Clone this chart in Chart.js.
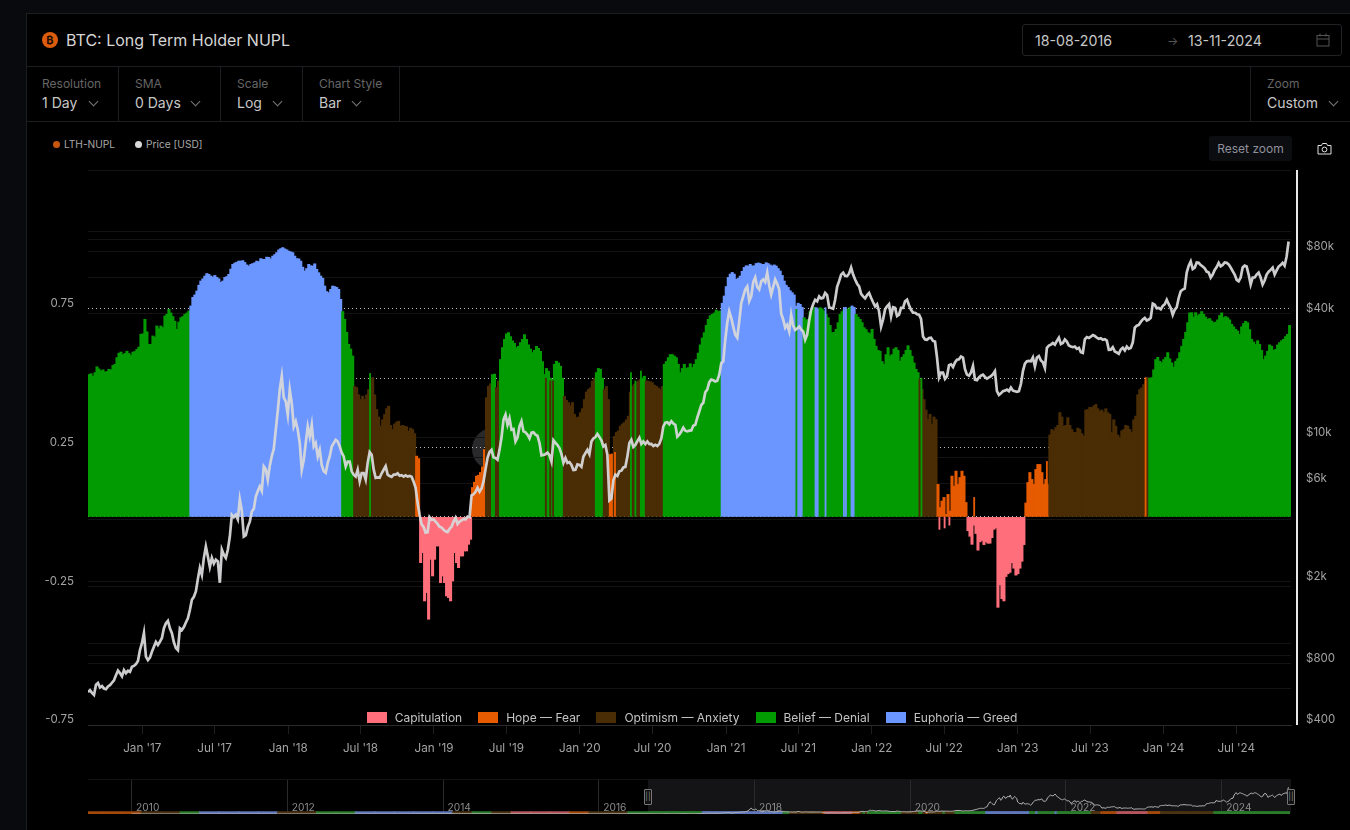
<!DOCTYPE html>
<html>
<head>
<meta charset="utf-8">
<title>BTC: Long Term Holder NUPL</title>
<script src="https://cdn.jsdelivr.net/npm/chart.js@4/dist/chart.umd.min.js"></script>
<style>
	* { box-sizing: border-box; }
	html, body { margin: 0; width: 1350px; height: 830px; overflow: hidden; background: #090a0e; font-family: Inter, sans-serif; }
	.abs { position: absolute; }
	#panel { left: 26px; top: 13px; width: 1324px; height: 817px; background: #000; border-left: 1px solid #1d1e21; border-top: 1px solid #1d1e21; }
	.rule { left: 26px; width: 1324px; height: 1px; background: #1d1e21; }
	.vrule { top: 67px; width: 1px; height: 55px; background: #1d1e21; }
	#coin { left: 42px; top: 32px; width: 16px; height: 16px; border-radius: 50%; background: #dd5c0c; color: #1c0d02; font-size: 11px; font-weight: 700; line-height: 16px; text-align: center; }
	#title { left: 66px; top: 30px; font-size: 16px; line-height: 20px; color: #d6d6d6; }
	.ctl-label { font-size: 12px; line-height: 16px; color: #666; }
	.ctl-value { font-size: 14px; line-height: 18px; color: #c8c8c8; margin-top: 2px; }
	.chev { position: absolute; width: 7px; height: 7px; border-right: 1px solid #777; border-bottom: 1px solid #777; transform: rotate(45deg); }
	#dates { left: 1022px; top: 24px; width: 320px; height: 32px; border: 1px solid #222327; border-radius: 3px; }
	.date { font-size: 14.2px; line-height: 18px; color: #c8c8c8; top: 32px; }
	#reset { left: 1209px; top: 136px; width: 83px; height: 25px; background: #0b0d11; border-radius: 3px; color: #8f909a; font-size: 12px; line-height: 25px; text-align: center; }
	.top-legend { top: 138px; font-size: 10.2px; line-height: 13px; color: #a8a8a8; }
	.dot { top: 141px; width: 7px; height: 7px; border-radius: 50%; }
	#bottom-legend { left: 0; width: 1384px; top: 710px; display: flex; justify-content: center; gap: 16px; font-size: 12px; line-height: 15px; color: #c4c4c4; }
	#bottom-legend span.item { display: flex; align-items: center; gap: 8px; }
	#bottom-legend i { width: 20px; height: 11px; display: block; }
	.ring { border-radius: 50%; border-style: solid; border-color: #29292b; }
	#nav-shade { left: 648px; top: 780px; width: 643px; height: 33px; background: #141417; }
	#nav-top { left: 88px; top: 779px; width: 1203px; height: 1px; background: #141416; }
	.handle { top: 789px; width: 8px; height: 16px; background: #111; border: 1px solid #777; border-radius: 1px; color: #888; font-size: 8px; line-height: 13px; text-align: center; }
</style>
</head>
<body>
<div class="abs" id="panel"></div>
<div class="abs rule" style="top:66px"></div>
<div class="abs rule" style="top:121px"></div>
<div class="abs vrule" style="left:118px"></div>
<div class="abs vrule" style="left:220px"></div>
<div class="abs vrule" style="left:302px"></div>
<div class="abs vrule" style="left:399px"></div>
<div class="abs vrule" style="left:1250px"></div>

<div class="abs" id="coin">₿</div>
<div class="abs" id="title">BTC: Long Term Holder NUPL</div>

<div class="abs" style="left:42px;top:76px"><div class="ctl-label">Resolution</div><div class="ctl-value">1 Day</div></div>
<div class="chev" style="left:90px;top:98px"></div>
<div class="abs" style="left:135px;top:76px"><div class="ctl-label">SMA</div><div class="ctl-value">0 Days</div></div>
<div class="chev" style="left:192px;top:98px"></div>
<div class="abs" style="left:237px;top:76px"><div class="ctl-label">Scale</div><div class="ctl-value">Log</div></div>
<div class="chev" style="left:274px;top:98px"></div>
<div class="abs" style="left:319px;top:76px"><div class="ctl-label">Chart Style</div><div class="ctl-value">Bar</div></div>
<div class="chev" style="left:353px;top:98px"></div>
<div class="abs" style="left:1267px;top:76px"><div class="ctl-label">Zoom</div><div class="ctl-value">Custom</div></div>
<div class="chev" style="left:1330px;top:98px"></div>

<div class="abs" id="dates"></div>
<div class="abs date" style="left:1035px">18-08-2016</div>
<div class="abs" style="left:1167px;top:33px;font-size:12px;line-height:16px;color:#555">→</div>
<div class="abs date" style="left:1188px">13-11-2024</div>
<svg class="abs" style="left:1316px;top:33px" width="14" height="14" viewBox="0 0 14 14" fill="none" stroke="#555"><rect x="1" y="2.5" width="12" height="10.5"/><path d="M1 6h12M4 .5v3M10 .5v3"/></svg>

<div class="abs dot" style="left:53px;background:#c8560f"></div>
<div class="abs top-legend" style="left:64px">LTH-NUPL</div>
<div class="abs dot" style="left:135px;background:#d8d8d8"></div>
<div class="abs top-legend" style="left:146px">Price [USD]</div>
<div class="abs" id="reset">Reset zoom</div>
<svg class="abs" style="left:1317px;top:142px" width="15" height="13" viewBox="0 0 15 13" fill="none" stroke="#e0e0e0"><path d="M1 3.5h3.5l1-2h4l1 2H14v8.5H1z"/><circle cx="7.5" cy="7.5" r="2.4"/></svg>

<div class="abs ring" style="left:472px;top:428px;width:42px;height:42px;border-width:12px"></div>
<div class="abs ring" style="left:613px;top:428px;width:40px;height:40px;border-width:6px"></div>
<div class="abs" id="nav-shade"></div>
<div class="abs" id="nav-top"></div>

<canvas class="abs" id="main" width="1350" height="780" style="left:0;top:0"></canvas>
<canvas class="abs" id="nav" width="1203" height="34" style="left:88px;top:780px"></canvas>

<div class="abs" id="bottom-legend"></div>
<div class="abs handle" style="left:644px">||</div>
<div class="abs handle" style="left:1287px">||</div>

<script>
const zoneNames = ['Capitulation', 'Hope — Fear', 'Optimism — Anxiety', 'Belief — Denial', 'Euphoria — Greed'];

// one value every 5 days from 18-08-2016, 20 to a row
const nupl = [
	.513,.516,.507,.52,.541,.533,.526,.53,.522,.524,.532,.53,.546,.55,.574,.59,.594,.585,.589,.597,
	.589,.582,.594,.596,.604,.612,.658,.66,.712,.667,.622,.622,.652,.648,.688,.678,.688,.682,.724,.73,
	.748,.735,.722,.705,.676,.702,.718,.722,.73,.735,.742,.76,.791,.80,.814,.835,.85,.858,.868,.877,
	.874,.868,.864,.87,.863,.858,.845,.85,.863,.866,.874,.893,.91,.915,.918,.922,.922,.924,.917,.908,
	.904,.91,.913,.916,.922,.92,.931,.928,.928,.936,.935,.93,.94,.945,.952,.962,.967,.97,.966,.962,
	.958,.955,.952,.94,.931,.93,.922,.90,.886,.895,.91,.905,.904,.912,.892,.88,.868,.86,.832,.812,
	.808,.82,.832,.83,.827,.82,.784,.74,.712,.665,.622,.605,.58,.47,.466,.44,.423,.435,.423,.44,
	.459,.48,.502,.44,.387,.36,.327,.35,.369,.39,.399,.33,.315,.335,.342,.345,.327,.33,.327,.325,
	.309,.32,.315,.30,.219,.21,-.165,-.129,-.303,-.273,-.369,-.153,-.213,-.153,-.105,-.105,-.237,-.213,-.237,-.285,
	-.291,-.303,-.231,-.129,-.165,-.183,-.141,-.141,-.123,-.123,-.099,-.081,.106,.125,.147,.15,.16,.18,.243,.43,
	.471,.48,.513,.515,.466,.49,.567,.61,.64,.66,.664,.65,.634,.625,.61,.615,.628,.64,.657,.64,
	.62,.605,.592,.60,.615,.607,.597,.56,.513,.535,.525,.50,.495,.55,.561,.555,.543,.50,.435,.42,
	.412,.40,.412,.37,.358,.36,.376,.39,.423,.45,.459,.465,.489,.50,.52,.535,.532,.50,.459,.47,
	.423,.225,.227,.29,.304,.31,.327,.335,.34,.35,.363,.45,.471,.478,.484,.49,.495,.50,.507,.49,
	.489,.487,.484,.475,.471,.465,.459,.47,.55,.56,.574,.585,.585,.58,.574,.55,.52,.535,.55,.535,
	.538,.552,.538,.55,.567,.59,.62,.645,.664,.69,.712,.725,.73,.735,.745,.74,.742,.77,.796,.83,
	.863,.875,.881,.875,.856,.86,.868,.885,.899,.905,.904,.91,.904,.905,.913,.915,.913,.91,.91,.916,
	.913,.908,.904,.908,.904,.895,.886,.87,.85,.835,.827,.815,.808,.80,.76,.77,.766,.755,.718,.71,
	.712,.74,.748,.755,.754,.75,.754,.75,.742,.73,.718,.69,.664,.665,.676,.70,.73,.74,.748,.75,
	.748,.755,.76,.755,.73,.72,.712,.70,.682,.675,.664,.66,.676,.64,.615,.60,.597,.56,.55,.585,
	.61,.58,.585,.605,.61,.60,.561,.575,.585,.60,.617,.60,.579,.555,.532,.52,.495,.46,.423,.385,
	.351,.37,.333,.36,.351,.117,.034,.057,.07,.009,.081,.021,.147,.111,.165,.117,.142,.165,.147,.052,
	-.05,-.07,-.099,-.03,-.06,-.12,-.09,-.085,-.10,-.09,-.095,-.095,-.075,-.045,-.04,-.326,-.245,-.295,-.303,-.215,
	-.205,-.20,-.165,-.185,-.21,-.205,-.185,-.16,-.10,.05,.124,.16,.135,.117,.171,.189,.189,.16,.117,.135,
	.117,.295,.315,.31,.322,.33,.376,.36,.327,.33,.358,.33,.315,.305,.304,.32,.315,.30,.291,.385,
	.387,.395,.394,.40,.405,.39,.381,.385,.376,.39,.376,.37,.304,.35,.327,.295,.286,.31,.315,.33,
	.327,.315,.304,.35,.363,.44,.459,.465,.477,.49,.502,.50,.502,.53,.567,.575,.561,.555,.567,.575,
	.592,.57,.555,.54,.561,.57,.592,.615,.64,.665,.7,.735,.736,.72,.736,.725,.73,.74,.73,.72,
	.712,.715,.706,.70,.702,.71,.726,.735,.718,.722,.718,.71,.694,.685,.676,.67,.658,.685,.697,.705,
	.7,.675,.64,.63,.622,.635,.622,.60,.567,.58,.597,.62,.615,.60,.604,.62,.628,.635,.64,.65,
	.658,.69
];

const price = [
	578,590,573,560,628,640,609,618,602,597,616,625,642,660,699,735,715,690,740,715,
	734,725,768,775,791,820,925,1000,1120,860,827,850,908,960,1015,980,1015,1060,1183,1250,
	1284,1180,1119,1010,946,925,1183,1160,1197,1260,1322,1450,1626,1680,1784,2050,2324,2150,2600,2950,
	2640,2350,2600,2440,2546,2500,1967,2850,2690,2600,2845,3300,4208,4100,4208,4000,5000,4400,3300,3350,
	3680,3900,4365,4500,5167,5500,5785,5500,7234,7000,6230,7300,8120,8800,10910,13500,17090,19860,15640,15000,
	12900,17090,14700,11320,12000,10910,9400,6970,7780,9400,11320,10130,11530,9050,9400,8090,8710,7360,6850,6730,
	7530,8090,9050,9400,9750,9570,9050,8440,8090,7230,7640,7640,6850,6600,6460,6970,6120,6710,6710,6250,
	7530,8500,8240,7000,6370,6400,6370,6700,6970,7250,6600,6500,6440,6600,6600,6700,6520,6560,6460,6550,
	6460,6500,6440,6100,5700,4800,4208,3780,3680,3450,3470,4100,3980,4000,3900,3800,3680,3650,3560,3500,
	3470,3600,3680,3900,4070,3800,3900,3950,4020,4000,4130,4100,5240,5300,5450,5700,5450,5650,6120,7000,
	7960,8500,8710,8000,7960,7800,8710,10000,12210,12900,11530,12400,10910,11000,9570,10000,11320,12000,10710,10600,
	10320,9900,10550,10600,10320,10200,9430,8200,8240,8300,8440,8200,7640,9700,9430,9200,8890,8300,7530,7950,
	7530,7600,7360,6950,6970,7400,7360,7200,8080,8400,8710,8300,9570,9900,10050,10400,10050,9700,9050,9200,
	8240,4950,5050,6200,6600,6500,6850,6900,7150,7200,8080,9400,9750,9000,9210,9600,9980,9300,9570,9300,
	9570,9300,9320,9100,9210,9100,9320,9900,11320,11800,11860,11600,12000,11700,11530,10100,10320,10700,11170,10800,
	10710,10800,10830,11400,11530,12500,13390,14400,14760,16600,17090,18600,19120,19000,18750,18900,20230,23000,23480,29900,
	36170,41030,38230,34630,31620,30580,36700,45000,48570,52450,54300,46100,48570,57000,60000,54000,52450,57500,58700,57000,
	63400,55000,49500,54000,58700,56000,52450,40000,37500,34200,35300,32800,39550,35000,33370,33900,34630,33500,32800,29900,
	31620,37000,41800,44500,46780,46000,48570,47500,47800,50500,49300,43000,42700,42300,46780,54000,57600,62000,63400,61000,
	60900,62800,67100,62000,58700,56000,54300,50000,48570,47500,49300,50500,47800,45500,43450,44500,41030,34630,37500,42000,
	43450,44500,38800,43000,42700,39000,39550,42700,42700,46000,46780,44000,41800,40500,40450,39800,39550,37800,31000,30000,
	29900,30500,30580,29500,29300,24500,19600,20700,20700,19300,19860,22500,22700,22000,23200,23900,24000,24800,24500,21500,
	20230,20000,20700,22300,19120,19000,19600,20000,20230,19700,19350,19600,19860,20300,21000,16800,16100,16400,16800,16900,
	17100,16800,17500,16900,16800,16700,16800,18200,21000,22900,23480,23600,23480,24500,22150,24500,24900,23700,23200,21800,
	27320,28000,28300,28800,28300,29500,30580,28500,28800,30000,29300,28000,27700,27500,27700,27000,27320,26000,25800,30000,
	30800,30500,30920,31500,31200,30600,30200,30400,29900,30100,29600,26700,26740,27500,26200,25900,25560,26800,27320,26500,
	27700,27000,27320,29000,34200,35000,35300,36500,37500,38200,37100,37500,38230,44800,44200,42500,42700,42000,43700,44500,
	46780,44500,42700,39500,41800,43000,47800,51500,52450,53000,63400,68500,71790,66000,67100,71000,70730,69000,67850,66500,
	64100,63500,60000,62000,65360,67500,70730,68000,69100,71000,70730,69500,67100,64500,62040,58500,57560,60000,67100,68500,
	67850,62000,55480,60000,60000,62000,63400,60000,55480,58000,62040,64000,65360,67000,62040,65000,67850,69000,70730,68500,
	75900,89800
];

// zone runs: code and the sample index where the run stops
const zoneCodes = [3,4,3,2,1,0,1,2,3,2,3,2,3,2,1,2,3,2,3,4,3,4,3,4,3,2,1,0,1,2,3];
const zoneEnds = [51,127,133,164,166,192,199,202,204,206,238,254,258,261,263,277,279,288,317,358,364,366,382,384,416,425,440,469,481,531,602];

// single day stripes that flip zone inside a longer run
const stripeDays = [706,1146,1157,1164,1319,1359,1370,1384,1773,1846,1892,1897,2086,2131,2144,2156,2218,2400,2647];
const stripeValues = [.517,.5,.49,.49,.233,.52,.49,.525,.748,.754,.755,.755,.5,-.045,-.04,-.03,.07,.2,.502];
const stripeZones = [3,2,2,2,1,3,3,3,3,4,4,4,3,0,0,0,1,1,1];

const tickDays = [136,317,501,682,866,1047,1231,1413,1597,1778,1962,2143,2327,2508,2692,2874];
const tickLabels = ["Jan '17","Jul '17","Jan '18","Jul '18","Jan '19","Jul '19","Jan '20","Jul '20","Jan '21","Jul '21","Jan '22","Jul '22","Jan '23","Jul '23","Jan '24","Jul '24"];

const nuplTicks = [-.75,-.5,-.25,0,.25,.5,.75,1,1.25];
const nuplLabels = [-.75,-.25,.25,.75];
const nuplDotted = [0,.25,.5,.75];

const priceTicks = [400,600,800,1000,2000,4000,6000,8000,10000,40000,60000,80000,100000,200000];
const priceLabels = {400:'$400',800:'$800',2000:'$2k',6000:'$6k',10000:'$10k',40000:'$40k',80000:'$80k'};

// navigator history before the zoomed range
const earlyYears = [2010,2010.5,2011,2011.5,2012,2012.5,2013,2013.5,2014,2014.5,2015,2015.5,2016,2016.5];
const earlyPrices = [0,0,1,15,6,9,15,100,800,620,280,280,430,650];
const earlyZoneYears = [2009.5,2009.75,2010,2010.25,2010.5,2010.75,2011,2011.25,2011.5,2011.75,2012,2012.25,2012.5,2012.75,2013,2013.25,2013.5,2013.75,2014,2014.25,2014.5,2014.75,2015,2015.25,2015.5,2015.75,2016,2016.25,2016.5];
const earlyZones = [1,1,1,2,2,3,4,4,4,4,2,2,3,3,4,4,4,4,4,2,3,2,0,0,0,1,2,2,3];
const navYears = [2010,2012,2014,2016,2018,2020,2022,2024];

const COLORS = ['#ff6f7b', '#e65a00', '#4a2d05', '#029b02', '#6c96ff'];
const NAV_COLORS = ['#b5565d', '#a3490b', '#4b3313', '#2a7d2a', '#6078bb'];
const START_YEAR = 2016.63;

const zones = nupl.map((_, i) => zoneCodes[zoneEnds.findIndex(end => i < end)]);
const days = nupl.map((_, i) => i * 5 + 2.5);
const priceDays = price.map((_, i) => i * 5);

document.getElementById('bottom-legend').innerHTML = zoneNames.map((name, i) =>
	`<span class="item"><i style="background:${COLORS[i]}"></i>${name}</span>`).join('');

const axisLine = {
	id: 'axisLine',
	afterDraw(chart) {
		const {ctx, chartArea} = chart;
		ctx.save();
		ctx.strokeStyle = '#e8e8e8';
		ctx.lineWidth = 2;
		ctx.beginPath();
		ctx.moveTo(chartArea.right + 6, chartArea.top);
		ctx.lineTo(chartArea.right + 6, chartArea.bottom);
		ctx.stroke();
		ctx.restore();
	}
};

const navLabels = {
	id: 'navLabels',
	afterDraw(chart) {
		const {ctx, scales} = chart;
		ctx.save();
		ctx.fillStyle = '#8c8c8c';
		ctx.font = '10.2px Inter, sans-serif';
		ctx.textBaseline = 'middle';
		for (const year of navYears) {
			ctx.fillText(String(year), scales.x.getPixelForValue(year) + 4.5, 28);
		}
		ctx.restore();
	}
};

Chart.defaults.font.family = 'Inter, sans-serif';

new Chart(document.getElementById('main'), {
	type: 'bar',
	data: {
		datasets: [{
			type: 'line',
			label: 'Price [USD]',
			data: priceDays.map((d, i) => ({x: d, y: price[i]})),
			yAxisID: 'y1',
			borderColor: 'rgba(215,215,217,.95)',
			borderWidth: 2.7,
			pointRadius: 0,
			tension: 0,
			order: 0
		},{
			label: 'stripes',
			data: stripeDays.map((d, i) => ({x: d, y: stripeValues[i]})),
			backgroundColor: stripeZones.map(z => COLORS[z]),
			barThickness: 1.2,
			grouped: false,
			order: 1
		},{
			label: 'LTH-NUPL',
			data: days.map((d, i) => ({x: d, y: nupl[i]})),
			backgroundColor: zones.map(z => COLORS[z]),
			barThickness: 2.4,
			grouped: false,
			order: 2
		}]
	},
	options: {
		responsive: false,
		animation: false,
		layout: {padding: {top: 170}},
		plugins: {legend: {display: false}, tooltip: {enabled: false}},
		scales: {
			x: {
				type: 'linear',
				offset: false,
				min: 0,
				max: 3011,
				afterBuildTicks: scale => { scale.ticks = tickDays.map(value => ({value})); },
				afterFit: scale => { scale.height = 55; },
				grid: {offset: false, drawOnChartArea: false, color: '#1f1f1f', tickLength: 9},
				border: {color: '#2b2b2b'},
				ticks: {
					color: '#a2a2a2',
					font: {size: 11.7},
					padding: 7,
					maxRotation: 0,
					autoSkip: false,
					callback: (v, i) => tickLabels[i]
				}
			},
			y: {
				min: -.75,
				max: 1.25,
				afterBuildTicks: scale => { scale.ticks = nuplTicks.map(value => ({value})); },
				afterFit: scale => { scale.width = 88; },
				grid: {
					drawTicks: false,
					color: ctx => nuplDotted.includes(ctx.tick.value) ? '#bdbdbd' : '#131313'
				},
				border: {
					display: false,
					dash: ctx => nuplDotted.includes(ctx.tick.value) ? [1, 3] : []
				},
				ticks: {
					color: '#a2a2a2',
					font: {size: 11.5},
					padding: 14,
					labelOffset: -5,
					autoSkip: false,
					callback: v => nuplLabels.includes(v) ? String(v) : ''
				}
			},
			y1: {
				type: 'logarithmic',
				position: 'right',
				min: 400,
				max: 200000,
				afterBuildTicks: scale => { scale.ticks = priceTicks.map(value => ({value})); },
				afterFit: scale => { scale.width = 59; },
				grid: {drawTicks: false, color: '#131313'},
				border: {display: false},
				ticks: {
					color: '#a2a2a2',
					font: {size: 11.5},
					padding: 15,
					labelOffset: -5,
					autoSkip: false,
					callback: v => priceLabels[v] || ''
				}
			}
		}
	},
	plugins: [axisLine]
});

const toYear = d => START_YEAR + d / 365.25;

new Chart(document.getElementById('nav'), {
	type: 'bar',
	data: {
		datasets: [{
			type: 'line',
			data: [
				...earlyYears.map((y, i) => ({x: y, y: earlyPrices[i]})),
				...priceDays.map((d, i) => ({x: toYear(d), y: price[i]}))
			],
			borderColor: '#b4b4b4',
			borderWidth: 1,
			pointRadius: 0,
			tension: 0,
			order: 0
		},{
			data: days.map(d => ({x: toYear(d), y: 8000})),
			backgroundColor: zones.map(z => NAV_COLORS[z]),
			barThickness: 1.4,
			grouped: false,
			order: 1
		},{
			data: earlyZoneYears.map(y => ({x: y, y: 8000})),
			backgroundColor: earlyZones.map(z => NAV_COLORS[z]),
			barThickness: 20,
			grouped: false,
			order: 2
		}]
	},
	options: {
		responsive: false,
		animation: false,
		plugins: {legend: {display: false}, tooltip: {enabled: false}},
		scales: {
			x: {
				type: 'linear',
				offset: false,
				min: 2009.44,
				max: 2024.89,
				afterBuildTicks: scale => { scale.ticks = navYears.map(value => ({value})); },
				afterFit: scale => { scale.height = 0; },
				grid: {offset: false, drawTicks: false, color: '#2a2a2c'},
				border: {display: false},
				ticks: {display: false}
			},
			y: {display: false, min: 0, max: 114000}
		}
	},
	plugins: [navLabels]
});
</script>
</body>
</html>
